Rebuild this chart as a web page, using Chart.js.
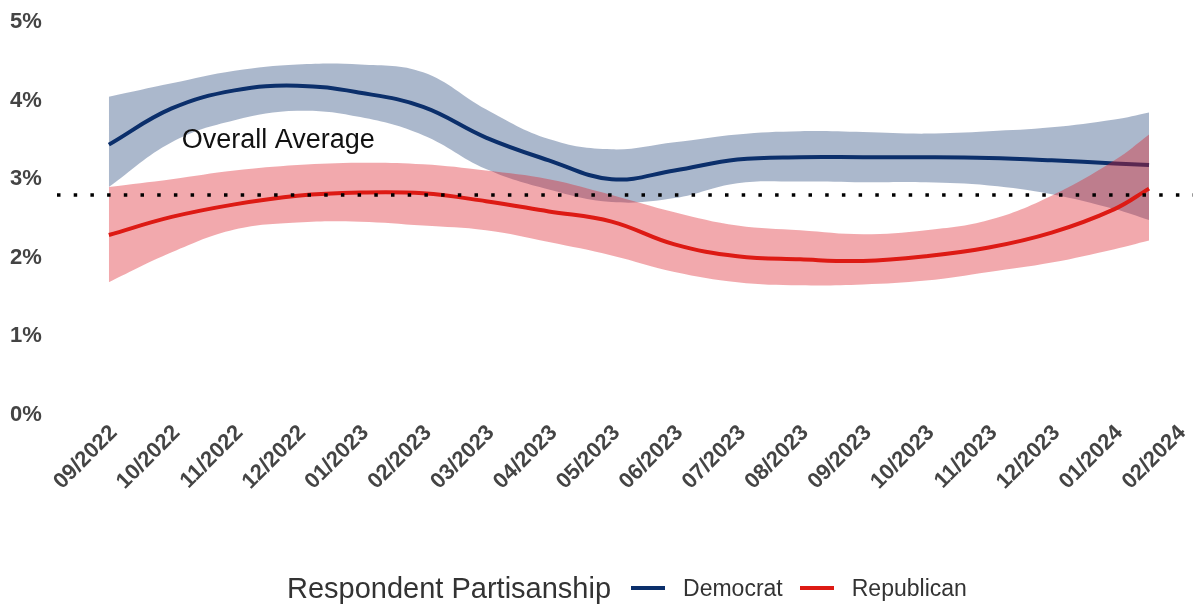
<!DOCTYPE html>
<html>
<head>
<meta charset="utf-8">
<script src="https://cdn.jsdelivr.net/npm/chart.js@4.4.1/dist/chart.umd.min.js"></script>
<style>
  html, body { margin: 0; padding: 0; background: #fff; }
  #wrap { position: relative; width: 1193px; height: 605px; }
  #legend {
    position: absolute; left: 287px; top: 568px; height: 40px;
    display: flex; align-items: center;
    font-family: 'Liberation Sans', Arial, sans-serif; color: #333;
  }
  #legend .title { font-size: 29px; margin-right: 20px; }
  #legend .swatch { width: 34px; height: 4px; margin-right: 18px; }
  #legend .item { font-size: 23px; margin-right: 17px; }
</style>
</head>
<body>
<div id="wrap">
  <canvas id="chart" width="1193" height="605"></canvas>
  <div id="legend"></div>
</div>
<script>
// month ticks along the x axis
const monthLabels = ['09/2022', '10/2022', '11/2022', '12/2022', '01/2023', '02/2023',
  '03/2023', '04/2023', '05/2023', '06/2023', '07/2023', '08/2023', '09/2023',
  '10/2023', '11/2023', '12/2023', '01/2024', '02/2024'];
const yTicks = [0, 1, 2, 3, 4, 5];

// x position of each estimate, in months since 09/2022
const xPos = [0, 1, 2, 3, 4, 5, 6, 7, 8, 9, 10, 11, 12, 13, 14, 15, 16, 16.55];

// smoothed share (%) with confidence band
const demMean = [3.44, 3.9, 4.13, 4.19, 4.1, 3.92, 3.53, 3.24, 3.0, 3.11, 3.25, 3.28, 3.28, 3.28, 3.27, 3.24, 3.2, 3.18];
const demUpper = [4.05, 4.22, 4.38, 4.46, 4.46, 4.36, 3.89, 3.51, 3.38, 3.47, 3.57, 3.61, 3.6, 3.58, 3.61, 3.66, 3.76, 3.85];
const demLower = [2.9, 3.47, 3.75, 3.87, 3.79, 3.56, 3.13, 2.87, 2.71, 2.76, 2.95, 2.97, 2.96, 2.96, 2.92, 2.81, 2.62, 2.48];

const repMean = [2.29, 2.52, 2.68, 2.79, 2.83, 2.82, 2.72, 2.59, 2.46, 2.17, 2.02, 1.98, 1.96, 2.02, 2.13, 2.32, 2.62, 2.88];
const repUpper = [2.9, 3.0, 3.11, 3.18, 3.21, 3.19, 3.11, 3.0, 2.8, 2.58, 2.41, 2.35, 2.3, 2.35, 2.48, 2.79, 3.24, 3.57];
const repLower = [1.69, 2.07, 2.36, 2.45, 2.46, 2.41, 2.35, 2.2, 2.03, 1.82, 1.69, 1.65, 1.66, 1.71, 1.82, 1.94, 2.11, 2.22];

const overallAverage = 2.8;
const avgLabel = 'Overall Average';
const avgLabelAt = [1.16, 3.49];

const seriesNames = ['Democrat', 'Republican'];
const legendTitle = 'Respondent Partisanship';

const FONT = "'Liberation Sans', Arial, sans-serif";
const DEM = '#0b2f6b';
const REP = '#dd1a14';

const pts = (ys) => ys.map((y, i) => ({ x: xPos[i], y }));

// dotted average line plus its label
const avgLine = {
  id: 'avgLine',
  afterDatasetsDraw(chart) {
    const { ctx, chartArea, scales } = chart;
    const y = scales.y.getPixelForValue(overallAverage);
    ctx.save();
    ctx.strokeStyle = '#000';
    ctx.lineWidth = 3.5;
    ctx.setLineDash([3.5, 13.2]);
    ctx.beginPath();
    ctx.moveTo(chartArea.left, y);
    ctx.lineTo(chart.width, y);
    ctx.stroke();
    ctx.setLineDash([]);
    ctx.font = '27px ' + FONT;
    ctx.fillStyle = '#111';
    ctx.textBaseline = 'middle';
    ctx.fillText(avgLabel, scales.x.getPixelForValue(avgLabelAt[0]), scales.y.getPixelForValue(avgLabelAt[1]));
    ctx.restore();
  }
};

const band = (data, color, order) => ({
  data: pts(data), borderWidth: 0, backgroundColor: color, fill: '+1', order, tension: 0.4
});

new Chart(document.getElementById('chart'), {
  type: 'line',
  data: {
    datasets: [
      { label: seriesNames[1], data: pts(repMean), borderColor: REP, borderWidth: 4, fill: false, order: 0, tension: 0.4 },
      band(repUpper, 'rgba(220,30,40,0.38)', 1),
      { data: pts(repLower), borderWidth: 0, fill: false, order: 2, tension: 0.4 },
      { label: seriesNames[0], data: pts(demMean), borderColor: DEM, borderWidth: 4, fill: false, order: 3, tension: 0.4 },
      band(demUpper, 'rgba(0,40,100,0.33)', 4),
      { data: pts(demLower), borderWidth: 0, fill: false, order: 5, tension: 0.4 }
    ]
  },
  options: {
    responsive: false,
    animation: false,
    layout: { padding: { top: 22, left: 10, right: 0, bottom: 0 } },
    plugins: { legend: { display: false }, tooltip: { enabled: false } },
    elements: { point: { radius: 0 } },
    scales: {
      x: {
        type: 'linear', min: -0.825, max: 17.0,
        grid: { display: false }, border: { display: false },
        afterBuildTicks: (s) => { s.ticks = monthLabels.map((_, i) => ({ value: i })); },
        afterFit: (s) => { s.height = 190; },
        ticks: {
          autoSkip: false, minRotation: 45, maxRotation: 45, padding: -3, labelOffset: 5,
          color: '#444', font: { family: FONT, size: 22, weight: 'bold' },
          callback: (v) => monthLabels[v]
        }
      },
      y: {
        min: 0, max: 5,
        grid: { display: false }, border: { display: false },
        afterBuildTicks: (s) => { s.ticks = yTicks.map((v) => ({ value: v })); },
        afterFit: (s) => { s.width = 47; },
        ticks: {
          crossAlign: 'far', color: '#444',
          font: { family: FONT, size: 22, weight: 'bold' },
          callback: (v) => v + '%'
        }
      }
    }
  },
  plugins: [avgLine]
});

// legend: title then one line swatch per party
const legend = document.getElementById('legend');
legend.innerHTML = `<span class="title">${legendTitle}</span>` +
  seriesNames.map((n, i) => `<span class="swatch" style="background:${i ? REP : DEM}"></span><span class="item">${n}</span>`).join('');
</script>
</body>
</html>
